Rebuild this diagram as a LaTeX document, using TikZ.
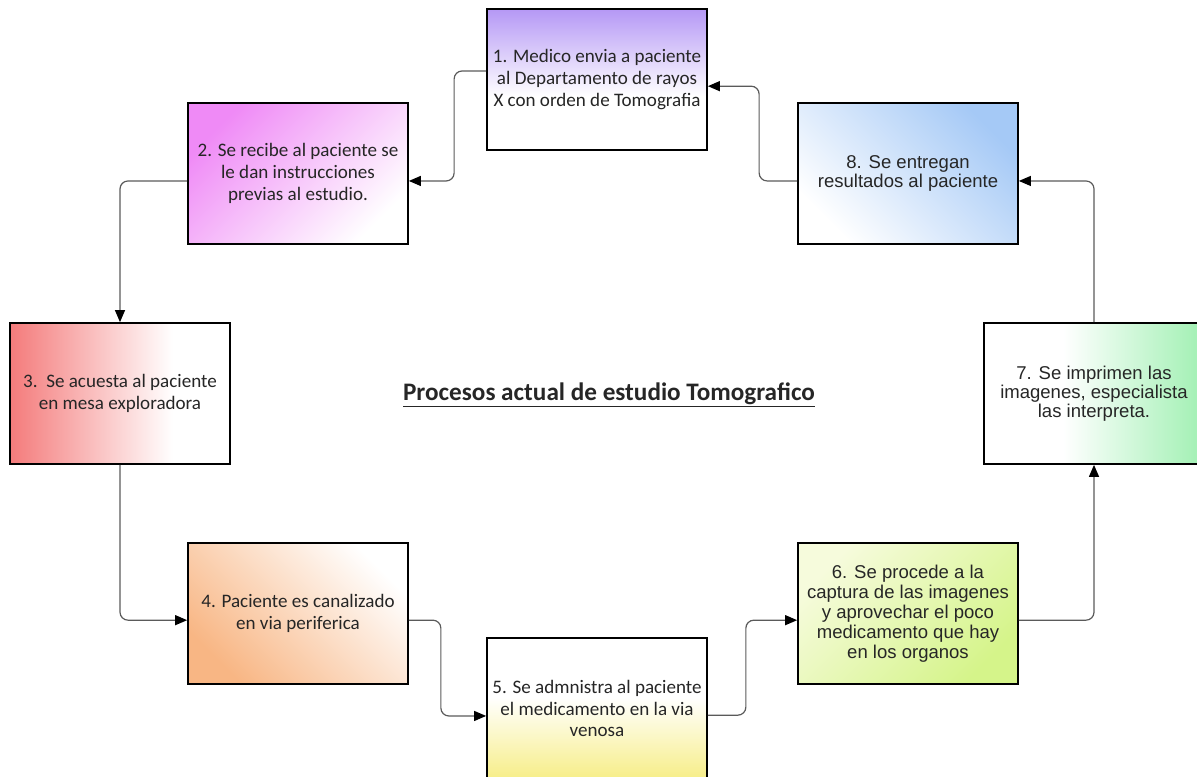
\documentclass[tikz,border=0pt]{standalone}
\usepackage{fontspec}
\setmainfont{Carlito}
\newfontfamily\arialf{Liberation Sans}
\usetikzlibrary{arrows.meta,calc}
\definecolor{cA}{HTML}{B598F5}
\definecolor{cB}{HTML}{EF8AF6}
\definecolor{cC}{HTML}{F47B7B}
\definecolor{cD}{HTML}{F8B684}
\definecolor{cE}{HTML}{F7EE88}
\definecolor{cFa}{HTML}{F6FBDC}
\definecolor{cFb}{HTML}{D5F48A}
\definecolor{cG}{HTML}{A6F1B7}
\definecolor{cH}{HTML}{A5C9F6}
\definecolor{conncol}{HTML}{5A5A5A}
\definecolor{txt}{HTML}{262626}
\tikzset{
  procbox/.style={draw=black, line width=1.3pt, minimum width=165pt, minimum height=105.75pt,
    align=center, text=txt, inner sep=2pt},
  calib/.style={font=\fontsize{14.3}{16.3}\selectfont},
  arialtxt/.style={font=\arialf\fontsize{13.9}{14.2}\selectfont},
  arialwide/.style={font=\arialf\fontsize{13.9}{15}\selectfont},
  conn/.style={draw=conncol, line width=0.9pt, rounded corners=6pt,
    -{Triangle[length=9pt,width=7.5pt,color=black,fill=black]}},
}
\begin{document}
\begin{tikzpicture}[x=0.75pt,y=0.75pt]
\useasboundingbox (0,0) rectangle (1197,776);
\clip (0,0) rectangle (1197,776);
% box 1
\node[procbox, calib, path picture={
  \fill[white] (path picture bounding box.south west) rectangle (path picture bounding box.north east);
  \shade[top color=cA, bottom color=white]
    (path picture bounding box.north west) rectangle ($(path picture bounding box.north east)!0.62!(path picture bounding box.south east)$);
}] (b1) at (597,696.5) {1. Medico envia a paciente\\al Departamento de rayos\\X con orden de Tomografia};
% box 2
\node[procbox, calib, top color=cB, middle color=cB!30, bottom color=white, shading angle=45]
  (b2) at (298,602.5) {2. Se recibe al paciente se\\le dan instrucciones\\previas al estudio.};
% box 3
\node[procbox, calib, path picture={
  \fill[white] (path picture bounding box.south west) rectangle (path picture bounding box.north east);
  \shade[left color=cC, right color=white]
    (path picture bounding box.south west) rectangle ($(path picture bounding box.north west)!0.74!(path picture bounding box.north east)$);
}] (b3) at (120,382.5) {3.\ \ Se acuesta al paciente\\en mesa exploradora};
% box 4
\node[procbox, calib, top color=cD, middle color=cD!28, bottom color=white, shading angle=135]
  (b4) at (298,162.5) {4. Paciente es canalizado\\en via periferica};
% box 5
\node[procbox, calib, path picture={
  \fill[white] (path picture bounding box.south west) rectangle (path picture bounding box.north east);
  \shade[top color=white, bottom color=cE]
    (path picture bounding box.south west) rectangle ($(path picture bounding box.south east)!0.58!(path picture bounding box.north east)$);
}] (b5) at (597,67.5) {5. Se admnistra al paciente\\el medicamento en la via\\venosa};
% box 6
\node[procbox, arialwide, top color=cFa, bottom color=cFb, shading angle=45]
  (b6) at (908,162.5) {6. Se procede a la\\captura de las imagenes\\y aprovechar el poco\\medicamento que hay\\en los organos};
% box 7
\node[procbox, arialtxt, path picture={
  \fill[white] (path picture bounding box.south west) rectangle (path picture bounding box.north east);
  \shade[left color=white, right color=cG]
    ($(path picture bounding box.south west)!0.36!(path picture bounding box.south east)$) rectangle ($(path picture bounding box.north west)!0.96!(path picture bounding box.north east)$);
  \fill[cG] ($(path picture bounding box.south west)!0.955!(path picture bounding box.south east)$) rectangle (path picture bounding box.north east);
}] (b7) at (1094,382.5) {7. Se imprimen las\\imagenes, especialista\\las interpreta.};
% box 8
\node[procbox, arialtxt, top color=cH, middle color=cH!35, bottom color=white, shading angle=-45]
  (b8) at (908,602.5) {8. Se entregan\\resultados al paciente};
% title
\node[font=\bfseries\fontsize{18.9}{22}\selectfont, text=txt] (title) at (609,381)
  {\underline{Procesos actual de estudio Tomografico}};
% connectors
\draw[conn] ([yshift=6.4pt]b1.west) -- ++(-32,0) |- ([yshift=-5.6pt]b2.east);
\draw[conn] ([yshift=-5.6pt]b2.west) -| (b3.north);
\draw[conn] (b3.south) |- ([yshift=-5pt]b4.west);
\draw[conn] ([yshift=-5pt]b4.east) -- ++(32,0) |- ([yshift=-5.6pt]b5.west);
\draw[conn] ([yshift=-5pt]b5.east) -- ++(38,0) |- ([yshift=-5pt]b6.west);
\draw[conn] ([yshift=-5pt]b6.east) -| (b7.south);
\draw[conn] (b7.north) |- ([yshift=-5.6pt]b8.east);
\draw[conn] ([yshift=-5.6pt]b8.west) -- ++(-38,0) |- ([yshift=-5pt]b1.east);
\end{tikzpicture}
\end{document}
